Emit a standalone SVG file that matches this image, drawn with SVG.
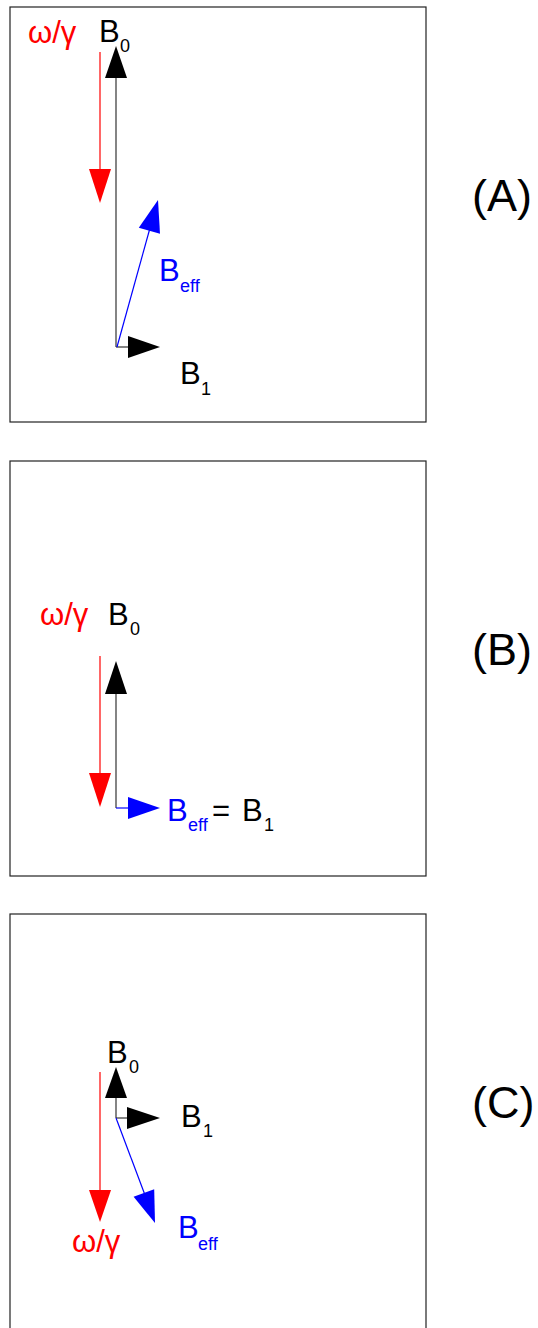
<svg xmlns="http://www.w3.org/2000/svg" width="538" height="1328" viewBox="0 0 538 1328">
<style>
.frame{fill:#fff;stroke:#222;stroke-width:1.2}
text{font-family:"Liberation Sans",Arial,sans-serif}
.lbl{font-size:31px}
.sub{font-size:18px}
.pan{font-size:45px;fill:#000}
.k{fill:#000}.r{fill:#f00}.b{fill:#00f}
.lk{stroke:#333;stroke-width:1.2;fill:none}
.lr{stroke:#f00;stroke-width:1.2;fill:none}
.lb{stroke:#00f;stroke-width:1.2;fill:none}
</style>
<rect width="538" height="1328" fill="#fff"/>
<g id="panelA">
<rect class="frame" x="10" y="7" width="416" height="415"/>
<text class="pan" x="472" y="211">(A)</text>
</g>
<g id="panelB">
<rect class="frame" x="10" y="461" width="416" height="415"/>
<text class="pan" x="472" y="665">(B)</text>
</g>
<g id="panelC">
<rect class="frame" x="10" y="914" width="416" height="416"/>
<text class="pan" x="472" y="1118">(C)</text>
</g>
<g id="connectors">
<!-- Panel A -->
<line class="lr" x1="100" y1="52" x2="100" y2="171"/>
<polygon class="r" points="89,169 111,169 100,203"/>
<line class="lk" x1="116" y1="76" x2="116" y2="347"/>
<polygon class="k" points="105,78 127,78 116,46"/>
<line class="lk" x1="116" y1="347" x2="130" y2="347"/>
<polygon class="k" points="128,336 128,358 160,347"/>
<line class="lb" x1="117" y1="347" x2="150" y2="228"/>
<polygon class="b" points="160,233.8 138.8,227.8 158,200"/>
<!-- Panel B -->
<line class="lr" x1="100" y1="656" x2="100" y2="775"/>
<polygon class="r" points="89,773 111,773 100,807"/>
<line class="lk" x1="116" y1="692" x2="116" y2="808"/>
<polygon class="k" points="105,694 127,694 116,661"/>
<line class="lb" x1="116" y1="808" x2="130" y2="808"/>
<polygon class="b" points="128,797 128,819 160,808"/>
<!-- Panel C -->
<line class="lr" x1="100" y1="1072" x2="100" y2="1192"/>
<polygon class="r" points="89,1190 111,1190 100,1222"/>
<line class="lk" x1="116" y1="1096" x2="116" y2="1118"/>
<polygon class="k" points="105,1098 127,1098 116,1067"/>
<line class="lk" x1="116" y1="1118" x2="129" y2="1118"/>
<polygon class="k" points="127,1107 127,1129 160,1118"/>
<line class="lb" x1="116" y1="1118" x2="145" y2="1195"/>
<polygon class="b" points="154.2,1189.2 133.6,1196.8 155,1223"/>
</g>
<g id="labels">
<!-- A -->
<text class="lbl r" x="28" y="43">ω/γ</text>
<text class="lbl k" x="99" y="42">B</text><text class="sub k" x="120" y="52">0</text>
<text class="lbl b" x="159" y="281">B</text><text class="sub b" x="180" y="292">eff</text>
<text class="lbl k" x="180" y="384">B</text><text class="sub k" x="201" y="395">1</text>
<!-- B -->
<text class="lbl r" x="40" y="625">ω/γ</text>
<text class="lbl k" x="108" y="625">B</text><text class="sub k" x="130" y="635">0</text>
<text class="lbl b" x="167" y="821">B</text><text class="sub b" x="188" y="831">eff</text>
<text class="lbl k" x="212" y="821">=</text>
<text class="lbl k" x="242" y="821">B</text><text class="sub k" x="264" y="831">1</text>
<!-- C -->
<text class="lbl k" x="107" y="1063">B</text><text class="sub k" x="129" y="1073">0</text>
<text class="lbl k" x="181" y="1127">B</text><text class="sub k" x="203" y="1137">1</text>
<text class="lbl b" x="178" y="1238">B</text><text class="sub b" x="198" y="1250">eff</text>
<text class="lbl r" x="72" y="1252">ω/γ</text>
</g>
</svg>
